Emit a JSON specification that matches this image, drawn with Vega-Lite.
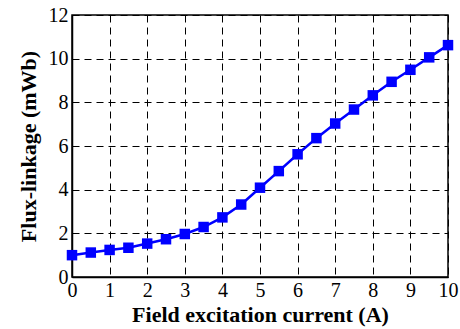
{
  "$schema": "https://vega.github.io/schema/vega-lite/v6.json",
  "width": 376,
  "height": 262,
  "autosize": {"type": "none"},
  "padding": {"left": 72, "top": 15, "right": 12, "bottom": 52},
  "background": "white",
  "config": {
    "view": {"stroke": "black", "strokeWidth": 1.5},
    "axis": {
      "labelFont": "Liberation Serif",
      "labelFontSize": 20,
      "labelColor": "black",
      "titleFont": "Liberation Serif",
      "titleFontSize": 22,
      "titleFontWeight": "bold",
      "titleColor": "black",
      "domainColor": "black",
      "domainWidth": 1.5,
      "tickColor": "black",
      "gridColor": "black",
      "gridDash": [7, 5],
      "gridWidth": 1,
      "gridOpacity": 1
    }
  },
  "data": {
    "values": [
      {"i": 0, "psi": 1.0},
      {"i": 0.5, "psi": 1.12},
      {"i": 1, "psi": 1.24},
      {"i": 1.5, "psi": 1.34},
      {"i": 2, "psi": 1.53},
      {"i": 2.5, "psi": 1.73},
      {"i": 3, "psi": 1.97},
      {"i": 3.5, "psi": 2.29},
      {"i": 4, "psi": 2.73},
      {"i": 4.5, "psi": 3.32},
      {"i": 5, "psi": 4.09},
      {"i": 5.5, "psi": 4.85},
      {"i": 6, "psi": 5.62},
      {"i": 6.5, "psi": 6.36},
      {"i": 7, "psi": 7.03},
      {"i": 7.5, "psi": 7.67},
      {"i": 8, "psi": 8.32},
      {"i": 8.5, "psi": 8.94},
      {"i": 9, "psi": 9.49},
      {"i": 9.5, "psi": 10.06},
      {"i": 10, "psi": 10.62}
    ]
  },
  "encoding": {
    "x": {
      "field": "i",
      "type": "quantitative",
      "scale": {"domain": [0, 10], "nice": false},
      "axis": {
        "title": "Field excitation current (A)",
        "values": [0, 1, 2, 3, 4, 5, 6, 7, 8, 9, 10],
        "tickSize": 0,
        "labelPadding": 3,
        "titlePadding": 4,
        "labelFlush": false
      }
    },
    "y": {
      "field": "psi",
      "type": "quantitative",
      "scale": {"domain": [0, 12], "nice": false},
      "axis": {
        "title": "Flux-linkage (mWb)",
        "values": [0, 2, 4, 6, 8, 10, 12],
        "tickSize": 0,
        "labelPadding": 4,
        "titlePadding": 8,
        "labelFlush": false
      }
    }
  },
  "layer": [
    {"mark": {"type": "line", "color": "#0000ff", "strokeWidth": 2.5}},
    {"mark": {"type": "square", "color": "#0000ff", "filled": true, "opacity": 1, "size": 110}}
  ]
}
